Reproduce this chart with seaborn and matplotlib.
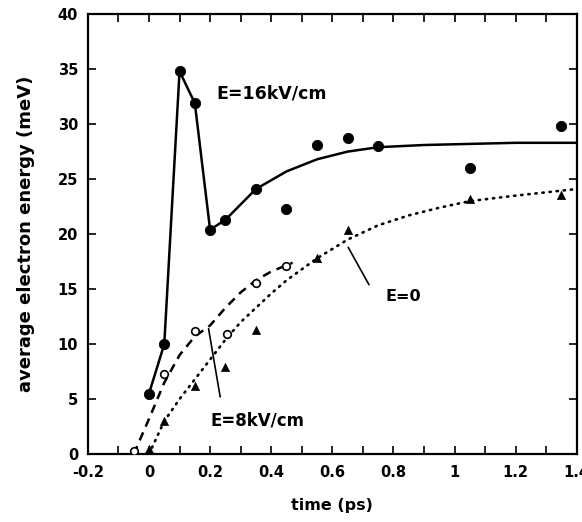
import numpy as np
import pandas as pd
import matplotlib
matplotlib.use("Agg")
import matplotlib.pyplot as plt
from matplotlib.ticker import MultipleLocator
import seaborn as sns

# === DATA ===
# E = 16 kV/cm, filled circles
t_16 = [0.0, 0.05, 0.10, 0.15, 0.20, 0.25, 0.35, 0.45, 0.55, 0.65, 0.75, 1.05, 1.35]
e_16 = [5.5, 10.0, 34.8, 31.9, 20.4, 21.3, 24.1, 22.3, 28.1, 28.7, 28.0, 26.0, 29.8]
# solid curve for 16 kV/cm
t_16_fit = [0.0, 0.05, 0.10, 0.15, 0.20, 0.25, 0.35, 0.45, 0.55, 0.65, 0.75, 0.9, 1.05, 1.2, 1.4]
e_16_fit = [5.5, 10.0, 34.8, 31.9, 20.4, 21.3, 24.1, 25.7, 26.8, 27.5, 27.9, 28.1, 28.2, 28.3, 28.3]

# E = 8 kV/cm, open circles
t_8 = [-0.05, 0.05, 0.15, 0.255, 0.35, 0.45]
e_8 = [0.3, 7.3, 11.2, 10.9, 15.6, 17.1]
# dashed curve for 8 kV/cm
t_8_fit = [-0.05, 0.0, 0.05, 0.10, 0.15, 0.20, 0.25, 0.30, 0.35, 0.40, 0.47]
e_8_fit = [0.0, 3.2, 6.5, 9.0, 10.7, 11.7, 13.3, 14.7, 15.8, 16.6, 17.4]

# E = 0, triangles
t_0 = [0.0, 0.05, 0.15, 0.25, 0.35, 0.55, 0.65, 1.05, 1.35]
e_0 = [0.45, 3.0, 6.2, 7.9, 11.3, 17.8, 20.4, 23.2, 23.6]
# dotted curve for E = 0
t_0_fit = [0.0, 0.05, 0.10, 0.15, 0.20, 0.25, 0.30, 0.35, 0.40, 0.45, 0.50, 0.55,
           0.65, 0.75, 0.85, 0.95, 1.05, 1.20, 1.40]
e_0_fit = [0.0, 3.0, 5.0, 6.8, 8.6, 10.4, 12.0, 13.3, 14.6, 15.8, 16.8, 17.8,
           19.5, 20.8, 21.7, 22.4, 23.0, 23.5, 24.1]

x_ticks = [-0.2, 0, 0.2, 0.4, 0.6, 0.8, 1, 1.2, 1.4]
x_tick_labels = ["-0.2", "0", "0.2", "0.4", "0.6", "0.8", "1", "1.2", "1.4"]
y_ticks = [0, 5, 10, 15, 20, 25, 30, 35, 40]


def make_chart():
    sns.set_style("ticks")
    plt.rcParams['font.family'] = ['DejaVu Sans']
    plt.rcParams['font.weight'] = 'bold'
    plt.rcParams['text.color'] = 'black'
    plt.rcParams['axes.labelcolor'] = 'black'
    plt.rcParams['xtick.color'] = 'black'
    plt.rcParams['ytick.color'] = 'black'

    fig = plt.figure(figsize=(5.82, 5.22), dpi=100)
    ax = fig.add_axes([0.151, 0.130, 0.840, 0.843])

    # fitted / guide curves
    sns.lineplot(x=t_16_fit, y=e_16_fit, ax=ax, color="black", lw=1.8,
                 sort=False, estimator=None)
    sns.lineplot(x=t_8_fit, y=e_8_fit, ax=ax, color="black", lw=1.8,
                 sort=False, estimator=None, linestyle=(0, (3.5, 2.5)))
    sns.lineplot(x=t_0_fit, y=e_0_fit, ax=ax, color="black", lw=1.9,
                 sort=False, estimator=None, linestyle=(0, (0.5, 2.2)))
    ax.lines[-1].set_dash_capstyle("round")

    # measured points
    sns.scatterplot(x=t_16, y=e_16, ax=ax, marker="o", s=55, color="black",
                    edgecolor="black", zorder=5)
    sns.scatterplot(x=t_8, y=e_8, ax=ax, marker="o", s=30, facecolor="white",
                    edgecolor="black", linewidth=1.2, zorder=5)
    sns.scatterplot(x=t_0, y=e_0, ax=ax, marker="^", s=35, color="black",
                    edgecolor="black", zorder=5)

    # labels and leader lines
    ax.text(0.22, 32.8, "E=16kV/cm", fontsize=12.5, fontweight="bold", va="center")
    ax.text(0.775, 14.3, "E=0", fontsize=11.5, fontweight="bold", va="center")
    ax.text(0.20, 3.1, "E=8kV/cm", fontsize=12, fontweight="bold", va="center")
    ax.plot([0.652, 0.72], [18.8, 15.4], color="black", lw=1.2)
    ax.plot([0.195, 0.233], [11.4, 5.2], color="black", lw=1.2)

    ax.set_xlim(-0.2, 1.4)
    ax.set_ylim(0, 40)
    ax.set_xticks(x_ticks)
    ax.set_xticklabels(x_tick_labels)
    ax.set_yticks(y_ticks)
    ax.xaxis.set_minor_locator(MultipleLocator(0.1))
    ax.tick_params(axis="both", which="both", direction="in", top=True, right=True,
                   labelsize=10.5, width=1.2, colors="black")
    ax.tick_params(which="both", length=6)
    ax.tick_params(axis="x", pad=7.5)
    ax.tick_params(axis="y", pad=7)
    for lbl in ax.get_xticklabels() + ax.get_yticklabels():
        lbl.set_fontweight("bold")
    for sp in ax.spines.values():
        sp.set_linewidth(1.6)
        sp.set_color("black")

    ax.set_xlabel("time (ps)", fontsize=11.5, fontweight="bold", labelpad=13)
    ax.set_ylabel("average electron energy (meV)", fontsize=13, fontweight="bold",
                  labelpad=16)

    fig.savefig("out.png", dpi=100)


if __name__ == "__main__":
    make_chart()
